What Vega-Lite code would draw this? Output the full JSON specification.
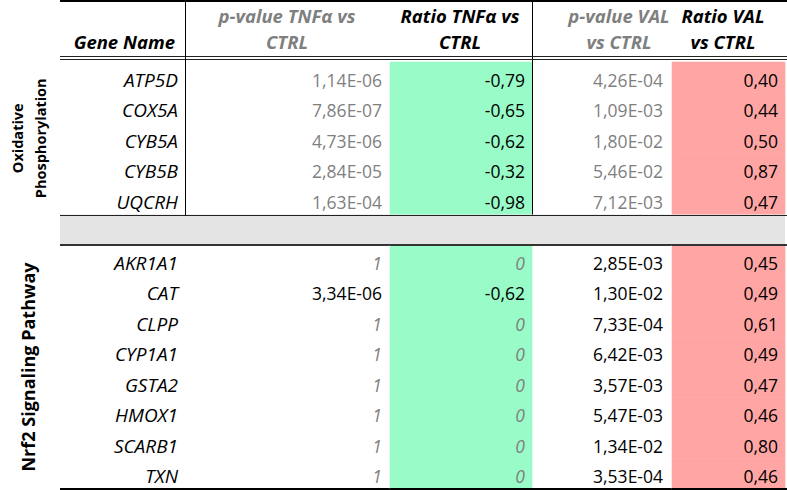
{
  "$schema": "https://vega.github.io/schema/vega-lite/v6.json",
  "padding": 0,
  "bounds": "flush",
  "spacing": 0,
  "config": {"view": {"stroke": null}, "font": "Open Sans", "text": {"font": "Open Sans"}},
  "datasets": {
    "genes": [
      {"pathway": "Oxidative Phosphorylation", "gene": "ATP5D", "pTNF": "1,14E-06", "rTNF": "-0,79", "pVAL": "4,26E-04", "rVAL": "0,40"},
      {"pathway": "Oxidative Phosphorylation", "gene": "COX5A", "pTNF": "7,86E-07", "rTNF": "-0,65", "pVAL": "1,09E-03", "rVAL": "0,44"},
      {"pathway": "Oxidative Phosphorylation", "gene": "CYB5A", "pTNF": "4,73E-06", "rTNF": "-0,62", "pVAL": "1,80E-02", "rVAL": "0,50"},
      {"pathway": "Oxidative Phosphorylation", "gene": "CYB5B", "pTNF": "2,84E-05", "rTNF": "-0,32", "pVAL": "5,46E-02", "rVAL": "0,87"},
      {"pathway": "Oxidative Phosphorylation", "gene": "UQCRH", "pTNF": "1,63E-04", "rTNF": "-0,98", "pVAL": "7,12E-03", "rVAL": "0,47"},
      {"pathway": "Nrf2 Signaling Pathway", "gene": "AKR1A1", "pTNF": "1", "rTNF": "0", "pVAL": "2,85E-03", "rVAL": "0,45"},
      {"pathway": "Nrf2 Signaling Pathway", "gene": "CAT", "pTNF": "3,34E-06", "rTNF": "-0,62", "pVAL": "1,30E-02", "rVAL": "0,49"},
      {"pathway": "Nrf2 Signaling Pathway", "gene": "CLPP", "pTNF": "1", "rTNF": "0", "pVAL": "7,33E-04", "rVAL": "0,61"},
      {"pathway": "Nrf2 Signaling Pathway", "gene": "CYP1A1", "pTNF": "1", "rTNF": "0", "pVAL": "6,42E-03", "rVAL": "0,49"},
      {"pathway": "Nrf2 Signaling Pathway", "gene": "GSTA2", "pTNF": "1", "rTNF": "0", "pVAL": "3,57E-03", "rVAL": "0,47"},
      {"pathway": "Nrf2 Signaling Pathway", "gene": "HMOX1", "pTNF": "1", "rTNF": "0", "pVAL": "5,47E-03", "rVAL": "0,46"},
      {"pathway": "Nrf2 Signaling Pathway", "gene": "SCARB1", "pTNF": "1", "rTNF": "0", "pVAL": "1,34E-02", "rVAL": "0,80"},
      {"pathway": "Nrf2 Signaling Pathway", "gene": "TXN", "pTNF": "1", "rTNF": "0", "pVAL": "3,53E-04", "rVAL": "0,46"}
    ],
    "headers": [
      {"column": "Gene Name", "line1": "", "line2": "Gene Name"},
      {"column": "pTNF", "line1": "p-value TNFα vs", "line2": "CTRL"},
      {"column": "rTNF", "line1": "Ratio TNFα vs", "line2": "CTRL"},
      {"column": "pVAL", "line1": "p-value VAL", "line2": "vs CTRL"},
      {"column": "rVAL", "line1": "Ratio VAL", "line2": "vs CTRL"}
    ]
  },
  "hconcat": [
    {
      "width": 60, "height": 488,
      "data": {"name": "genes"},
      "layer": [
        {
          "transform": [{"filter": "datum.gene == 'CYB5A'"}],
          "mark": {"type": "text", "angle": 270, "fontSize": 14.5, "fontWeight": "bold", "lineBreak": " ", "lineHeight": 23, "align": "center", "baseline": "middle", "dy": -11, "color": "#000000"},
          "encoding": {
            "x": {"datum": "label", "type": "nominal", "scale": {"paddingInner": 0, "paddingOuter": 0}, "axis": null},
            "y": {"field": "gene", "type": "nominal", "scale": {"domain": ["h1","h2","ATP5D","COX5A","CYB5A","CYB5B","UQCRH","gap","AKR1A1","CAT","CLPP","CYP1A1","GSTA2","HMOX1","SCARB1","TXN"], "paddingInner": 0, "paddingOuter": 0}, "axis": null},
            "text": {"field": "pathway"}
          }
        },
        {
          "transform": [{"filter": "datum.gene == 'GSTA2'"}],
          "mark": {"type": "text", "angle": 270, "fontSize": 18, "fontWeight": "bold", "align": "center", "baseline": "middle", "dx": 15.25, "color": "#000000"},
          "encoding": {
            "x": {"datum": "label", "type": "nominal", "scale": {"paddingInner": 0, "paddingOuter": 0}, "axis": null},
            "y": {"field": "gene", "type": "nominal", "scale": {"domain": ["h1","h2","ATP5D","COX5A","CYB5A","CYB5B","UQCRH","gap","AKR1A1","CAT","CLPP","CYP1A1","GSTA2","HMOX1","SCARB1","TXN"], "paddingInner": 0, "paddingOuter": 0}, "axis": null},
            "text": {"field": "pathway"}
          }
        }
      ]
    },
    {
      "width": 126, "height": 488,
      "data": {"name": "headers"},
      "transform": [{"filter": "datum.column == 'Gene Name'"}],
      "layer": [
        {"mark": {"type": "rect", "fill": "#e4e4e4"}, "encoding": {"x": {"datum": "Gene Name", "type": "nominal", "scale": {"paddingInner": 0, "paddingOuter": 0}, "axis": null}, "y": {"datum": "gap", "type": "nominal", "scale": {"domain": ["h1","h2","ATP5D","COX5A","CYB5A","CYB5B","UQCRH","gap","AKR1A1","CAT","CLPP","CYP1A1","GSTA2","HMOX1","SCARB1","TXN"], "paddingInner": 0, "paddingOuter": 0}, "axis": null}}},
        {
          "data": {"name": "genes"},
          "mark": {"type": "text", "align": "right", "baseline": "alphabetic", "dx": -8, "dy": 9.5, "fontSize": 19, "fontStyle": "italic", "color": "#000000"},
          "encoding": {
            "x": {"datum": "Gene Name", "type": "nominal", "bandPosition": 1, "scale": {"paddingInner": 0, "paddingOuter": 0}, "axis": null},
            "y": {"field": "gene", "type": "nominal", "scale": {"domain": ["h1","h2","ATP5D","COX5A","CYB5A","CYB5B","UQCRH","gap","AKR1A1","CAT","CLPP","CYP1A1","GSTA2","HMOX1","SCARB1","TXN"], "paddingInner": 0, "paddingOuter": 0}, "axis": null},
            "text": {"field": "gene"}
          }
        },
        {
          "mark": {"type": "text", "align": "right", "baseline": "alphabetic", "dx": -11, "dy": 2.25, "fontSize": 18.5, "fontWeight": "bold", "fontStyle": "italic", "color": "#000000"},
          "encoding": {
            "x": {"datum": "Gene Name", "type": "nominal", "bandPosition": 1, "scale": {"paddingInner": 0, "paddingOuter": 0}, "axis": null},
            "y": {"datum": "h2", "type": "nominal", "scale": {"domain": ["h1","h2","ATP5D","COX5A","CYB5A","CYB5B","UQCRH","gap","AKR1A1","CAT","CLPP","CYP1A1","GSTA2","HMOX1","SCARB1","TXN"], "paddingInner": 0, "paddingOuter": 0}, "axis": null},
            "text": {"field": "line2"}
          }
        },
        {"mark": {"type": "rule", "color": "#000000", "strokeWidth": 2}, "encoding": {"y": {"datum": "h1", "type": "nominal", "bandPosition": 0, "scale": {"domain": ["h1","h2","ATP5D","COX5A","CYB5A","CYB5B","UQCRH","gap","AKR1A1","CAT","CLPP","CYP1A1","GSTA2","HMOX1","SCARB1","TXN"], "paddingInner": 0, "paddingOuter": 0}, "axis": null}}},
        {"mark": {"type": "rule", "color": "#222222", "strokeWidth": 1, "yOffset": -5.5}, "encoding": {"y": {"datum": "ATP5D", "type": "nominal", "bandPosition": 0, "scale": {"domain": ["h1","h2","ATP5D","COX5A","CYB5A","CYB5B","UQCRH","gap","AKR1A1","CAT","CLPP","CYP1A1","GSTA2","HMOX1","SCARB1","TXN"], "paddingInner": 0, "paddingOuter": 0}, "axis": null}}},
        {"mark": {"type": "rule", "color": "#222222", "strokeWidth": 1, "yOffset": -2.5}, "encoding": {"y": {"datum": "ATP5D", "type": "nominal", "bandPosition": 0, "scale": {"domain": ["h1","h2","ATP5D","COX5A","CYB5A","CYB5B","UQCRH","gap","AKR1A1","CAT","CLPP","CYP1A1","GSTA2","HMOX1","SCARB1","TXN"], "paddingInner": 0, "paddingOuter": 0}, "axis": null}}},
        {"mark": {"type": "rule", "color": "#222222", "strokeWidth": 1, "yOffset": 1}, "encoding": {"y": {"datum": "gap", "type": "nominal", "bandPosition": 0, "scale": {"domain": ["h1","h2","ATP5D","COX5A","CYB5A","CYB5B","UQCRH","gap","AKR1A1","CAT","CLPP","CYP1A1","GSTA2","HMOX1","SCARB1","TXN"], "paddingInner": 0, "paddingOuter": 0}, "axis": null}}},
        {"mark": {"type": "rule", "color": "#333333", "strokeWidth": 2}, "encoding": {"y": {"datum": "AKR1A1", "type": "nominal", "bandPosition": 0, "scale": {"domain": ["h1","h2","ATP5D","COX5A","CYB5A","CYB5B","UQCRH","gap","AKR1A1","CAT","CLPP","CYP1A1","GSTA2","HMOX1","SCARB1","TXN"], "paddingInner": 0, "paddingOuter": 0}, "axis": null}}},
        {"mark": {"type": "rule", "color": "#000000", "strokeWidth": 3, "yOffset": 0.5}, "encoding": {"y": {"datum": "TXN", "type": "nominal", "bandPosition": 1, "scale": {"domain": ["h1","h2","ATP5D","COX5A","CYB5A","CYB5B","UQCRH","gap","AKR1A1","CAT","CLPP","CYP1A1","GSTA2","HMOX1","SCARB1","TXN"], "paddingInner": 0, "paddingOuter": 0}, "axis": null}}},
        {
          "mark": {"type": "rule", "color": "#000000", "strokeWidth": 1, "xOffset": -0.5, "y2Offset": -14.25},
          "encoding": {
            "x": {"datum": "Gene Name", "type": "nominal", "bandPosition": 1, "scale": {"paddingInner": 0, "paddingOuter": 0}, "axis": null},
            "y": {"datum": "h1", "type": "nominal", "bandPosition": 0, "scale": {"domain": ["h1","h2","ATP5D","COX5A","CYB5A","CYB5B","UQCRH","gap","AKR1A1","CAT","CLPP","CYP1A1","GSTA2","HMOX1","SCARB1","TXN"], "paddingInner": 0, "paddingOuter": 0}, "axis": null},
            "y2": {"datum": "gap"}
          }
        }
      ]
    },
    {
      "width": 204, "height": 488,
      "data": {"name": "headers"},
      "transform": [{"filter": "datum.column == 'pTNF'"}],
      "layer": [
        {"mark": {"type": "rect", "fill": "#e4e4e4"}, "encoding": {"x": {"datum": "pTNF", "type": "nominal", "scale": {"paddingInner": 0, "paddingOuter": 0}, "axis": null}, "y": {"datum": "gap", "type": "nominal", "scale": {"domain": ["h1","h2","ATP5D","COX5A","CYB5A","CYB5B","UQCRH","gap","AKR1A1","CAT","CLPP","CYP1A1","GSTA2","HMOX1","SCARB1","TXN"], "paddingInner": 0, "paddingOuter": 0}, "axis": null}}},
        {
          "data": {"name": "genes"},
          "transform": [{"filter": "datum.pTNF != '1'"}],
          "mark": {"type": "text", "align": "right", "baseline": "alphabetic", "dx": -8, "dy": 9.5, "fontSize": 17.5},
          "encoding": {
            "x": {"datum": "pTNF", "type": "nominal", "bandPosition": 1, "scale": {"paddingInner": 0, "paddingOuter": 0}, "axis": null},
            "y": {"field": "gene", "type": "nominal", "scale": {"domain": ["h1","h2","ATP5D","COX5A","CYB5A","CYB5B","UQCRH","gap","AKR1A1","CAT","CLPP","CYP1A1","GSTA2","HMOX1","SCARB1","TXN"], "paddingInner": 0, "paddingOuter": 0}, "axis": null},
            "text": {"field": "pTNF"},
            "color": {"condition": {"test": "datum.pathway == 'Oxidative Phosphorylation'", "value": "#7f7f7f"}, "value": "#000000"}
          }
        },
        {
          "data": {"name": "genes"},
          "transform": [{"filter": "datum.pTNF == '1'"}],
          "mark": {"type": "text", "align": "right", "baseline": "alphabetic", "dx": -8, "dy": 9.5, "fontSize": 17.5, "fontStyle": "italic", "color": "#7f7f7f"},
          "encoding": {
            "x": {"datum": "pTNF", "type": "nominal", "bandPosition": 1, "scale": {"paddingInner": 0, "paddingOuter": 0}, "axis": null},
            "y": {"field": "gene", "type": "nominal", "scale": {"domain": ["h1","h2","ATP5D","COX5A","CYB5A","CYB5B","UQCRH","gap","AKR1A1","CAT","CLPP","CYP1A1","GSTA2","HMOX1","SCARB1","TXN"], "paddingInner": 0, "paddingOuter": 0}, "axis": null},
            "text": {"field": "pTNF"}
          }
        },
        {
          "mark": {"type": "text", "align": "center", "baseline": "alphabetic", "dx": -1, "dy": 6.75, "fontSize": 18.5, "fontWeight": "bold", "fontStyle": "italic", "color": "#7f7f7f"},
          "encoding": {
            "x": {"datum": "pTNF", "type": "nominal", "scale": {"paddingInner": 0, "paddingOuter": 0}, "axis": null},
            "y": {"datum": "h1", "type": "nominal", "scale": {"domain": ["h1","h2","ATP5D","COX5A","CYB5A","CYB5B","UQCRH","gap","AKR1A1","CAT","CLPP","CYP1A1","GSTA2","HMOX1","SCARB1","TXN"], "paddingInner": 0, "paddingOuter": 0}, "axis": null},
            "text": {"field": "line1"}
          }
        },
        {
          "mark": {"type": "text", "align": "center", "baseline": "alphabetic", "dx": -1, "dy": 2.25, "fontSize": 18.5, "fontWeight": "bold", "fontStyle": "italic", "color": "#7f7f7f"},
          "encoding": {
            "x": {"datum": "pTNF", "type": "nominal", "scale": {"paddingInner": 0, "paddingOuter": 0}, "axis": null},
            "y": {"datum": "h2", "type": "nominal", "scale": {"domain": ["h1","h2","ATP5D","COX5A","CYB5A","CYB5B","UQCRH","gap","AKR1A1","CAT","CLPP","CYP1A1","GSTA2","HMOX1","SCARB1","TXN"], "paddingInner": 0, "paddingOuter": 0}, "axis": null},
            "text": {"field": "line2"}
          }
        },
        {"mark": {"type": "rule", "color": "#000000", "strokeWidth": 2}, "encoding": {"y": {"datum": "h1", "type": "nominal", "bandPosition": 0, "scale": {"domain": ["h1","h2","ATP5D","COX5A","CYB5A","CYB5B","UQCRH","gap","AKR1A1","CAT","CLPP","CYP1A1","GSTA2","HMOX1","SCARB1","TXN"], "paddingInner": 0, "paddingOuter": 0}, "axis": null}}},
        {"mark": {"type": "rule", "color": "#222222", "strokeWidth": 1, "yOffset": -5.5}, "encoding": {"y": {"datum": "ATP5D", "type": "nominal", "bandPosition": 0, "scale": {"domain": ["h1","h2","ATP5D","COX5A","CYB5A","CYB5B","UQCRH","gap","AKR1A1","CAT","CLPP","CYP1A1","GSTA2","HMOX1","SCARB1","TXN"], "paddingInner": 0, "paddingOuter": 0}, "axis": null}}},
        {"mark": {"type": "rule", "color": "#222222", "strokeWidth": 1, "yOffset": -2.5}, "encoding": {"y": {"datum": "ATP5D", "type": "nominal", "bandPosition": 0, "scale": {"domain": ["h1","h2","ATP5D","COX5A","CYB5A","CYB5B","UQCRH","gap","AKR1A1","CAT","CLPP","CYP1A1","GSTA2","HMOX1","SCARB1","TXN"], "paddingInner": 0, "paddingOuter": 0}, "axis": null}}},
        {"mark": {"type": "rule", "color": "#222222", "strokeWidth": 1, "yOffset": 1}, "encoding": {"y": {"datum": "gap", "type": "nominal", "bandPosition": 0, "scale": {"domain": ["h1","h2","ATP5D","COX5A","CYB5A","CYB5B","UQCRH","gap","AKR1A1","CAT","CLPP","CYP1A1","GSTA2","HMOX1","SCARB1","TXN"], "paddingInner": 0, "paddingOuter": 0}, "axis": null}}},
        {"mark": {"type": "rule", "color": "#333333", "strokeWidth": 2}, "encoding": {"y": {"datum": "AKR1A1", "type": "nominal", "bandPosition": 0, "scale": {"domain": ["h1","h2","ATP5D","COX5A","CYB5A","CYB5B","UQCRH","gap","AKR1A1","CAT","CLPP","CYP1A1","GSTA2","HMOX1","SCARB1","TXN"], "paddingInner": 0, "paddingOuter": 0}, "axis": null}}},
        {"mark": {"type": "rule", "color": "#000000", "strokeWidth": 3, "yOffset": 0.5}, "encoding": {"y": {"datum": "TXN", "type": "nominal", "bandPosition": 1, "scale": {"domain": ["h1","h2","ATP5D","COX5A","CYB5A","CYB5B","UQCRH","gap","AKR1A1","CAT","CLPP","CYP1A1","GSTA2","HMOX1","SCARB1","TXN"], "paddingInner": 0, "paddingOuter": 0}, "axis": null}}}
      ]
    },
    {
      "width": 142, "height": 488,
      "data": {"name": "headers"},
      "transform": [{"filter": "datum.column == 'rTNF'"}],
      "layer": [
        {
          "data": {"name": "genes"},
          "mark": {"type": "rect", "fill": "#99fbc8", "stroke": "#99fbc8", "strokeWidth": 0.6},
          "encoding": {
            "x": {"datum": "rTNF", "type": "nominal", "scale": {"paddingInner": 0, "paddingOuter": 0}, "axis": null},
            "y": {"field": "gene", "type": "nominal", "scale": {"domain": ["h1","h2","ATP5D","COX5A","CYB5A","CYB5B","UQCRH","gap","AKR1A1","CAT","CLPP","CYP1A1","GSTA2","HMOX1","SCARB1","TXN"], "paddingInner": 0, "paddingOuter": 0}, "axis": null}
          }
        },
        {"mark": {"type": "rect", "fill": "#e4e4e4"}, "encoding": {"x": {"datum": "rTNF", "type": "nominal", "scale": {"paddingInner": 0, "paddingOuter": 0}, "axis": null}, "y": {"datum": "gap", "type": "nominal", "scale": {"domain": ["h1","h2","ATP5D","COX5A","CYB5A","CYB5B","UQCRH","gap","AKR1A1","CAT","CLPP","CYP1A1","GSTA2","HMOX1","SCARB1","TXN"], "paddingInner": 0, "paddingOuter": 0}, "axis": null}}},
        {
          "data": {"name": "genes"},
          "transform": [{"filter": "datum.rTNF != '0'"}],
          "mark": {"type": "text", "align": "right", "baseline": "alphabetic", "dx": -7, "dy": 9.5, "fontSize": 17.5, "color": "#000000"},
          "encoding": {
            "x": {"datum": "rTNF", "type": "nominal", "bandPosition": 1, "scale": {"paddingInner": 0, "paddingOuter": 0}, "axis": null},
            "y": {"field": "gene", "type": "nominal", "scale": {"domain": ["h1","h2","ATP5D","COX5A","CYB5A","CYB5B","UQCRH","gap","AKR1A1","CAT","CLPP","CYP1A1","GSTA2","HMOX1","SCARB1","TXN"], "paddingInner": 0, "paddingOuter": 0}, "axis": null},
            "text": {"field": "rTNF"}
          }
        },
        {
          "data": {"name": "genes"},
          "transform": [{"filter": "datum.rTNF == '0'"}],
          "mark": {"type": "text", "align": "right", "baseline": "alphabetic", "dx": -7, "dy": 9.5, "fontSize": 17.5, "fontStyle": "italic", "color": "#7f7f7f"},
          "encoding": {
            "x": {"datum": "rTNF", "type": "nominal", "bandPosition": 1, "scale": {"paddingInner": 0, "paddingOuter": 0}, "axis": null},
            "y": {"field": "gene", "type": "nominal", "scale": {"domain": ["h1","h2","ATP5D","COX5A","CYB5A","CYB5B","UQCRH","gap","AKR1A1","CAT","CLPP","CYP1A1","GSTA2","HMOX1","SCARB1","TXN"], "paddingInner": 0, "paddingOuter": 0}, "axis": null},
            "text": {"field": "rTNF"}
          }
        },
        {
          "mark": {"type": "text", "align": "center", "baseline": "alphabetic", "dx": -1, "dy": 6.75, "fontSize": 18.5, "fontWeight": "bold", "fontStyle": "italic", "color": "#000000"},
          "encoding": {
            "x": {"datum": "rTNF", "type": "nominal", "scale": {"paddingInner": 0, "paddingOuter": 0}, "axis": null},
            "y": {"datum": "h1", "type": "nominal", "scale": {"domain": ["h1","h2","ATP5D","COX5A","CYB5A","CYB5B","UQCRH","gap","AKR1A1","CAT","CLPP","CYP1A1","GSTA2","HMOX1","SCARB1","TXN"], "paddingInner": 0, "paddingOuter": 0}, "axis": null},
            "text": {"field": "line1"}
          }
        },
        {
          "mark": {"type": "text", "align": "center", "baseline": "alphabetic", "dx": -1, "dy": 2.25, "fontSize": 18.5, "fontWeight": "bold", "fontStyle": "italic", "color": "#000000"},
          "encoding": {
            "x": {"datum": "rTNF", "type": "nominal", "scale": {"paddingInner": 0, "paddingOuter": 0}, "axis": null},
            "y": {"datum": "h2", "type": "nominal", "scale": {"domain": ["h1","h2","ATP5D","COX5A","CYB5A","CYB5B","UQCRH","gap","AKR1A1","CAT","CLPP","CYP1A1","GSTA2","HMOX1","SCARB1","TXN"], "paddingInner": 0, "paddingOuter": 0}, "axis": null},
            "text": {"field": "line2"}
          }
        },
        {"mark": {"type": "rule", "color": "#000000", "strokeWidth": 2}, "encoding": {"y": {"datum": "h1", "type": "nominal", "bandPosition": 0, "scale": {"domain": ["h1","h2","ATP5D","COX5A","CYB5A","CYB5B","UQCRH","gap","AKR1A1","CAT","CLPP","CYP1A1","GSTA2","HMOX1","SCARB1","TXN"], "paddingInner": 0, "paddingOuter": 0}, "axis": null}}},
        {"mark": {"type": "rule", "color": "#222222", "strokeWidth": 1, "yOffset": -5.5}, "encoding": {"y": {"datum": "ATP5D", "type": "nominal", "bandPosition": 0, "scale": {"domain": ["h1","h2","ATP5D","COX5A","CYB5A","CYB5B","UQCRH","gap","AKR1A1","CAT","CLPP","CYP1A1","GSTA2","HMOX1","SCARB1","TXN"], "paddingInner": 0, "paddingOuter": 0}, "axis": null}}},
        {"mark": {"type": "rule", "color": "#222222", "strokeWidth": 1, "yOffset": -2.5}, "encoding": {"y": {"datum": "ATP5D", "type": "nominal", "bandPosition": 0, "scale": {"domain": ["h1","h2","ATP5D","COX5A","CYB5A","CYB5B","UQCRH","gap","AKR1A1","CAT","CLPP","CYP1A1","GSTA2","HMOX1","SCARB1","TXN"], "paddingInner": 0, "paddingOuter": 0}, "axis": null}}},
        {"mark": {"type": "rule", "color": "#222222", "strokeWidth": 1, "yOffset": 1}, "encoding": {"y": {"datum": "gap", "type": "nominal", "bandPosition": 0, "scale": {"domain": ["h1","h2","ATP5D","COX5A","CYB5A","CYB5B","UQCRH","gap","AKR1A1","CAT","CLPP","CYP1A1","GSTA2","HMOX1","SCARB1","TXN"], "paddingInner": 0, "paddingOuter": 0}, "axis": null}}},
        {"mark": {"type": "rule", "color": "#333333", "strokeWidth": 2}, "encoding": {"y": {"datum": "AKR1A1", "type": "nominal", "bandPosition": 0, "scale": {"domain": ["h1","h2","ATP5D","COX5A","CYB5A","CYB5B","UQCRH","gap","AKR1A1","CAT","CLPP","CYP1A1","GSTA2","HMOX1","SCARB1","TXN"], "paddingInner": 0, "paddingOuter": 0}, "axis": null}}},
        {"mark": {"type": "rule", "color": "#000000", "strokeWidth": 3, "yOffset": 0.5}, "encoding": {"y": {"datum": "TXN", "type": "nominal", "bandPosition": 1, "scale": {"domain": ["h1","h2","ATP5D","COX5A","CYB5A","CYB5B","UQCRH","gap","AKR1A1","CAT","CLPP","CYP1A1","GSTA2","HMOX1","SCARB1","TXN"], "paddingInner": 0, "paddingOuter": 0}, "axis": null}}},
        {
          "mark": {"type": "rule", "color": "#000000", "strokeWidth": 1, "xOffset": 0.5, "y2Offset": -14.25},
          "encoding": {
            "x": {"datum": "rTNF", "type": "nominal", "bandPosition": 1, "scale": {"paddingInner": 0, "paddingOuter": 0}, "axis": null},
            "y": {"datum": "h1", "type": "nominal", "bandPosition": 0, "scale": {"domain": ["h1","h2","ATP5D","COX5A","CYB5A","CYB5B","UQCRH","gap","AKR1A1","CAT","CLPP","CYP1A1","GSTA2","HMOX1","SCARB1","TXN"], "paddingInner": 0, "paddingOuter": 0}, "axis": null},
            "y2": {"datum": "gap"}
          }
        }
      ]
    },
    {
      "width": 140, "height": 488,
      "data": {"name": "headers"},
      "transform": [{"filter": "datum.column == 'pVAL'"}],
      "layer": [
        {"mark": {"type": "rect", "fill": "#e4e4e4"}, "encoding": {"x": {"datum": "pVAL", "type": "nominal", "scale": {"paddingInner": 0, "paddingOuter": 0}, "axis": null}, "y": {"datum": "gap", "type": "nominal", "scale": {"domain": ["h1","h2","ATP5D","COX5A","CYB5A","CYB5B","UQCRH","gap","AKR1A1","CAT","CLPP","CYP1A1","GSTA2","HMOX1","SCARB1","TXN"], "paddingInner": 0, "paddingOuter": 0}, "axis": null}}},
        {
          "data": {"name": "genes"},
          "mark": {"type": "text", "align": "right", "baseline": "alphabetic", "dx": -9, "dy": 9.5, "fontSize": 17.5},
          "encoding": {
            "x": {"datum": "pVAL", "type": "nominal", "bandPosition": 1, "scale": {"paddingInner": 0, "paddingOuter": 0}, "axis": null},
            "y": {"field": "gene", "type": "nominal", "scale": {"domain": ["h1","h2","ATP5D","COX5A","CYB5A","CYB5B","UQCRH","gap","AKR1A1","CAT","CLPP","CYP1A1","GSTA2","HMOX1","SCARB1","TXN"], "paddingInner": 0, "paddingOuter": 0}, "axis": null},
            "text": {"field": "pVAL"},
            "color": {"condition": {"test": "datum.pathway == 'Oxidative Phosphorylation'", "value": "#7f7f7f"}, "value": "#000000"}
          }
        },
        {
          "mark": {"type": "text", "align": "center", "baseline": "alphabetic", "dx": 17, "dy": 6.75, "fontSize": 18.5, "fontWeight": "bold", "fontStyle": "italic", "color": "#7f7f7f"},
          "encoding": {
            "x": {"datum": "pVAL", "type": "nominal", "scale": {"paddingInner": 0, "paddingOuter": 0}, "axis": null},
            "y": {"datum": "h1", "type": "nominal", "scale": {"domain": ["h1","h2","ATP5D","COX5A","CYB5A","CYB5B","UQCRH","gap","AKR1A1","CAT","CLPP","CYP1A1","GSTA2","HMOX1","SCARB1","TXN"], "paddingInner": 0, "paddingOuter": 0}, "axis": null},
            "text": {"field": "line1"}
          }
        },
        {
          "mark": {"type": "text", "align": "center", "baseline": "alphabetic", "dx": 17, "dy": 2.25, "fontSize": 18.5, "fontWeight": "bold", "fontStyle": "italic", "color": "#7f7f7f"},
          "encoding": {
            "x": {"datum": "pVAL", "type": "nominal", "scale": {"paddingInner": 0, "paddingOuter": 0}, "axis": null},
            "y": {"datum": "h2", "type": "nominal", "scale": {"domain": ["h1","h2","ATP5D","COX5A","CYB5A","CYB5B","UQCRH","gap","AKR1A1","CAT","CLPP","CYP1A1","GSTA2","HMOX1","SCARB1","TXN"], "paddingInner": 0, "paddingOuter": 0}, "axis": null},
            "text": {"field": "line2"}
          }
        },
        {"mark": {"type": "rule", "color": "#000000", "strokeWidth": 2}, "encoding": {"y": {"datum": "h1", "type": "nominal", "bandPosition": 0, "scale": {"domain": ["h1","h2","ATP5D","COX5A","CYB5A","CYB5B","UQCRH","gap","AKR1A1","CAT","CLPP","CYP1A1","GSTA2","HMOX1","SCARB1","TXN"], "paddingInner": 0, "paddingOuter": 0}, "axis": null}}},
        {"mark": {"type": "rule", "color": "#222222", "strokeWidth": 1, "yOffset": -5.5}, "encoding": {"y": {"datum": "ATP5D", "type": "nominal", "bandPosition": 0, "scale": {"domain": ["h1","h2","ATP5D","COX5A","CYB5A","CYB5B","UQCRH","gap","AKR1A1","CAT","CLPP","CYP1A1","GSTA2","HMOX1","SCARB1","TXN"], "paddingInner": 0, "paddingOuter": 0}, "axis": null}}},
        {"mark": {"type": "rule", "color": "#222222", "strokeWidth": 1, "yOffset": -2.5}, "encoding": {"y": {"datum": "ATP5D", "type": "nominal", "bandPosition": 0, "scale": {"domain": ["h1","h2","ATP5D","COX5A","CYB5A","CYB5B","UQCRH","gap","AKR1A1","CAT","CLPP","CYP1A1","GSTA2","HMOX1","SCARB1","TXN"], "paddingInner": 0, "paddingOuter": 0}, "axis": null}}},
        {"mark": {"type": "rule", "color": "#222222", "strokeWidth": 1, "yOffset": 1}, "encoding": {"y": {"datum": "gap", "type": "nominal", "bandPosition": 0, "scale": {"domain": ["h1","h2","ATP5D","COX5A","CYB5A","CYB5B","UQCRH","gap","AKR1A1","CAT","CLPP","CYP1A1","GSTA2","HMOX1","SCARB1","TXN"], "paddingInner": 0, "paddingOuter": 0}, "axis": null}}},
        {"mark": {"type": "rule", "color": "#333333", "strokeWidth": 2}, "encoding": {"y": {"datum": "AKR1A1", "type": "nominal", "bandPosition": 0, "scale": {"domain": ["h1","h2","ATP5D","COX5A","CYB5A","CYB5B","UQCRH","gap","AKR1A1","CAT","CLPP","CYP1A1","GSTA2","HMOX1","SCARB1","TXN"], "paddingInner": 0, "paddingOuter": 0}, "axis": null}}},
        {"mark": {"type": "rule", "color": "#000000", "strokeWidth": 3, "yOffset": 0.5}, "encoding": {"y": {"datum": "TXN", "type": "nominal", "bandPosition": 1, "scale": {"domain": ["h1","h2","ATP5D","COX5A","CYB5A","CYB5B","UQCRH","gap","AKR1A1","CAT","CLPP","CYP1A1","GSTA2","HMOX1","SCARB1","TXN"], "paddingInner": 0, "paddingOuter": 0}, "axis": null}}}
      ]
    },
    {
      "width": 115, "height": 488,
      "data": {"name": "headers"},
      "transform": [{"filter": "datum.column == 'rVAL'"}],
      "layer": [
        {
          "data": {"name": "genes"},
          "mark": {"type": "rect", "fill": "#ffa6a4", "stroke": "#ffa6a4", "strokeWidth": 0.6},
          "encoding": {
            "x": {"datum": "rVAL", "type": "nominal", "scale": {"paddingInner": 0, "paddingOuter": 0.0088, "align": 0}, "axis": null},
            "y": {"field": "gene", "type": "nominal", "scale": {"domain": ["h1","h2","ATP5D","COX5A","CYB5A","CYB5B","UQCRH","gap","AKR1A1","CAT","CLPP","CYP1A1","GSTA2","HMOX1","SCARB1","TXN"], "paddingInner": 0, "paddingOuter": 0}, "axis": null}
          }
        },
        {"mark": {"type": "rect", "fill": "#e4e4e4"}, "encoding": {"x": {"datum": "rVAL", "type": "nominal", "scale": {"paddingInner": 0, "paddingOuter": 0.0088, "align": 0}, "axis": null}, "y": {"datum": "gap", "type": "nominal", "scale": {"domain": ["h1","h2","ATP5D","COX5A","CYB5A","CYB5B","UQCRH","gap","AKR1A1","CAT","CLPP","CYP1A1","GSTA2","HMOX1","SCARB1","TXN"], "paddingInner": 0, "paddingOuter": 0}, "axis": null}}},
        {
          "data": {"name": "genes"},
          "mark": {"type": "text", "align": "right", "baseline": "alphabetic", "dx": -7, "dy": 9.5, "fontSize": 17.5, "color": "#000000"},
          "encoding": {
            "x": {"datum": "rVAL", "type": "nominal", "bandPosition": 1, "scale": {"paddingInner": 0, "paddingOuter": 0.0088, "align": 0}, "axis": null},
            "y": {"field": "gene", "type": "nominal", "scale": {"domain": ["h1","h2","ATP5D","COX5A","CYB5A","CYB5B","UQCRH","gap","AKR1A1","CAT","CLPP","CYP1A1","GSTA2","HMOX1","SCARB1","TXN"], "paddingInner": 0, "paddingOuter": 0}, "axis": null},
            "text": {"field": "rVAL"}
          }
        },
        {
          "mark": {"type": "text", "align": "center", "baseline": "alphabetic", "dx": -5.5, "dy": 6.75, "fontSize": 18.5, "fontWeight": "bold", "fontStyle": "italic", "color": "#000000"},
          "encoding": {
            "x": {"datum": "rVAL", "type": "nominal", "scale": {"paddingInner": 0, "paddingOuter": 0.0088, "align": 0}, "axis": null},
            "y": {"datum": "h1", "type": "nominal", "scale": {"domain": ["h1","h2","ATP5D","COX5A","CYB5A","CYB5B","UQCRH","gap","AKR1A1","CAT","CLPP","CYP1A1","GSTA2","HMOX1","SCARB1","TXN"], "paddingInner": 0, "paddingOuter": 0}, "axis": null},
            "text": {"field": "line1"}
          }
        },
        {
          "mark": {"type": "text", "align": "center", "baseline": "alphabetic", "dx": -5.5, "dy": 2.25, "fontSize": 18.5, "fontWeight": "bold", "fontStyle": "italic", "color": "#000000"},
          "encoding": {
            "x": {"datum": "rVAL", "type": "nominal", "scale": {"paddingInner": 0, "paddingOuter": 0.0088, "align": 0}, "axis": null},
            "y": {"datum": "h2", "type": "nominal", "scale": {"domain": ["h1","h2","ATP5D","COX5A","CYB5A","CYB5B","UQCRH","gap","AKR1A1","CAT","CLPP","CYP1A1","GSTA2","HMOX1","SCARB1","TXN"], "paddingInner": 0, "paddingOuter": 0}, "axis": null},
            "text": {"field": "line2"}
          }
        },
        {"mark": {"type": "rule", "color": "#000000", "strokeWidth": 2}, "encoding": {"y": {"datum": "h1", "type": "nominal", "bandPosition": 0, "scale": {"domain": ["h1","h2","ATP5D","COX5A","CYB5A","CYB5B","UQCRH","gap","AKR1A1","CAT","CLPP","CYP1A1","GSTA2","HMOX1","SCARB1","TXN"], "paddingInner": 0, "paddingOuter": 0}, "axis": null}}},
        {"mark": {"type": "rule", "color": "#222222", "strokeWidth": 1, "yOffset": -5.5}, "encoding": {"y": {"datum": "ATP5D", "type": "nominal", "bandPosition": 0, "scale": {"domain": ["h1","h2","ATP5D","COX5A","CYB5A","CYB5B","UQCRH","gap","AKR1A1","CAT","CLPP","CYP1A1","GSTA2","HMOX1","SCARB1","TXN"], "paddingInner": 0, "paddingOuter": 0}, "axis": null}}},
        {"mark": {"type": "rule", "color": "#222222", "strokeWidth": 1, "yOffset": -2.5}, "encoding": {"y": {"datum": "ATP5D", "type": "nominal", "bandPosition": 0, "scale": {"domain": ["h1","h2","ATP5D","COX5A","CYB5A","CYB5B","UQCRH","gap","AKR1A1","CAT","CLPP","CYP1A1","GSTA2","HMOX1","SCARB1","TXN"], "paddingInner": 0, "paddingOuter": 0}, "axis": null}}},
        {"mark": {"type": "rule", "color": "#222222", "strokeWidth": 1, "yOffset": 1}, "encoding": {"y": {"datum": "gap", "type": "nominal", "bandPosition": 0, "scale": {"domain": ["h1","h2","ATP5D","COX5A","CYB5A","CYB5B","UQCRH","gap","AKR1A1","CAT","CLPP","CYP1A1","GSTA2","HMOX1","SCARB1","TXN"], "paddingInner": 0, "paddingOuter": 0}, "axis": null}}},
        {"mark": {"type": "rule", "color": "#333333", "strokeWidth": 2}, "encoding": {"y": {"datum": "AKR1A1", "type": "nominal", "bandPosition": 0, "scale": {"domain": ["h1","h2","ATP5D","COX5A","CYB5A","CYB5B","UQCRH","gap","AKR1A1","CAT","CLPP","CYP1A1","GSTA2","HMOX1","SCARB1","TXN"], "paddingInner": 0, "paddingOuter": 0}, "axis": null}}},
        {"mark": {"type": "rule", "color": "#000000", "strokeWidth": 3, "yOffset": 0.5}, "encoding": {"y": {"datum": "TXN", "type": "nominal", "bandPosition": 1, "scale": {"domain": ["h1","h2","ATP5D","COX5A","CYB5A","CYB5B","UQCRH","gap","AKR1A1","CAT","CLPP","CYP1A1","GSTA2","HMOX1","SCARB1","TXN"], "paddingInner": 0, "paddingOuter": 0}, "axis": null}}}
      ]
    }
  ]
}
